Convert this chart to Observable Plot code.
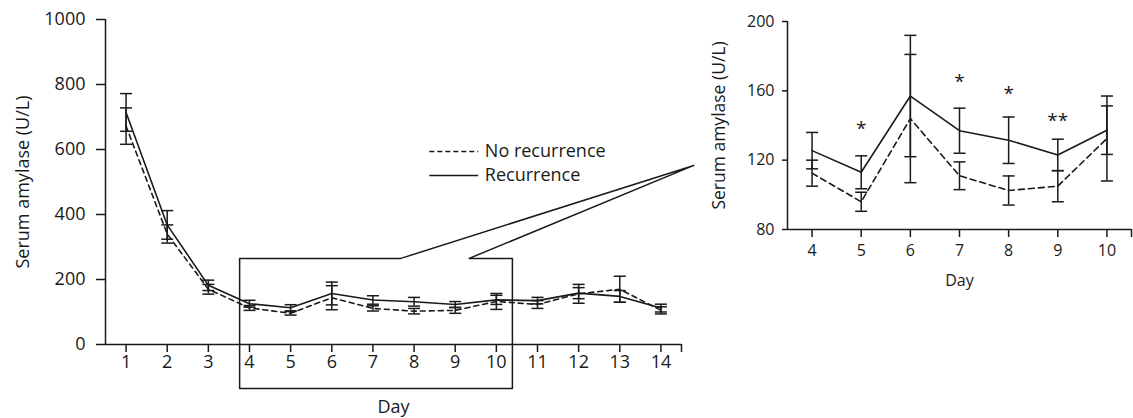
<!DOCTYPE html>
<html>
<head>
<meta charset="utf-8">
<script src="https://cdn.jsdelivr.net/npm/d3@7"></script>
<script src="https://cdn.jsdelivr.net/npm/@observablehq/plot@0.6"></script>
<style>
  html, body { margin: 0; padding: 0; background: #fff; }
  #root { position: relative; width: 1133px; height: 418px; background: #fff; overflow: hidden; }
  #left { position: absolute; left: 0; top: 0; }
  #right { position: absolute; left: 700px; top: 0; }
</style>
</head>
<body>
<div id="root"><div id="left"></div><div id="right"></div></div>
<script>
// ---- data ----
const days = [1, 2, 3, 4, 5, 6, 7, 8, 9, 10, 11, 12, 13, 14];
const recurrenceMean = [714, 368, 182, 125.5, 113, 157, 137, 131.5, 123, 137.3, 135, 158, 148, 112];
const recurrenceErr  = [58, 44, 16, 10.5, 9.5, 35, 13, 13.4, 9.1, 14, 10, 17, 18, 12];
const noRecurrenceMean = [672, 340, 170, 112.5, 96, 144, 111, 102.5, 105, 132.5, 123, 156, 170, 105];
const noRecurrenceErr  = [56, 28, 15, 7.5, 5.5, 37, 8, 8.4, 9, 24.5, 12, 29, 40, 11];
const seriesNames = ["No recurrence", "Recurrence"];
const leftYTicks = [0, 200, 400, 600, 800, 1000];
const insetDays = [4, 5, 6, 7, 8, 9, 10];
const insetYTicks = [80, 120, 160, 200];
const sigDays = [5, 7, 8, 9];
const sigLabels = ["*", "*", "*", "**"];
const sigValues = [140.5, 167.5, 160.6, 145.2];
const yLabel = "Serum amylase (U/L)";
const xLabel = "Day";

// ---- tables built from the arrays ----
const rows = [];
days.forEach((d, i) => {
  rows.push({day: d, series: seriesNames[0], mean: noRecurrenceMean[i], err: noRecurrenceErr[i]});
  rows.push({day: d, series: seriesNames[1], mean: recurrenceMean[i], err: recurrenceErr[i]});
});
const insetRows = rows.filter(r => insetDays.includes(r.day));
const sig = sigDays.map((d, i) => ({day: d, label: sigLabels[i], value: sigValues[i]}));

const ink = "#1a1a1a";
const font = "Open Sans";
const hline = {draw(ctx, size) { const r = Math.sqrt(size / Math.PI); ctx.moveTo(-r, 0); ctx.lineTo(r, 0); }};

function seriesMarks(data, dash, capR) {
  const out = [];
  for (const name of seriesNames) {
    const sub = data.filter(r => r.series === name);
    const dashed = name === seriesNames[0];
    out.push(Plot.line(sub, {x: "day", y: "mean", stroke: ink, strokeWidth: 1.6,
      strokeDasharray: dashed ? dash : null}));
    out.push(Plot.ruleX(sub, {x: "day", y1: d => d.mean - d.err, y2: d => d.mean + d.err, stroke: ink, strokeWidth: 1.5}));
    out.push(Plot.dot(sub, {x: "day", y: d => d.mean + d.err, symbol: hline, r: capR, stroke: ink, strokeWidth: 1.5, fill: "none"}));
    out.push(Plot.dot(sub, {x: "day", y: d => d.mean - d.err, symbol: hline, r: capR, stroke: ink, strokeWidth: 1.5, fill: "none"}));
  }
  return out;
}

// ---- zoom box and callout (data coordinates of the left panel) ----
const boxX1 = 3.76, boxX2 = 10.39, boxYTop = 265, boxYBottom = -135;
const gapX1 = 7.68, gapX2 = 9.34, calloutX = 14.8, calloutY = 551;
const boxPath = [
  [boxX1, boxYTop], [boxX1, boxYBottom], [boxX2, boxYBottom], [boxX2, boxYTop],
  [gapX2, boxYTop], [calloutX, calloutY], [gapX1, boxYTop], [boxX1, boxYTop]
];

// legend placement (data coordinates of the left panel)
const legLineX1 = 8.37, legLineX2 = 9.56, legTextX = 9.72, legY = [594, 520];

const left = Plot.plot({
  width: 700, height: 418,
  marginLeft: 105, marginRight: 19, marginTop: 19, marginBottom: 74,
  style: {fontFamily: font, fontSize: "18px", color: ink, background: "transparent", overflow: "visible"},
  x: {domain: [0.5, 14.5], axis: null},
  y: {domain: [0, 1000], axis: null},
  marks: [
    Plot.axisY({ticks: leftYTicks, tickSize: 9, tickPadding: 11, label: null, strokeWidth: 1.5, fontSize: 18,
      tickFormat: d => String(d)}),
    Plot.axisX({ticks: [...days, 14.5], tickSize: 8, tickPadding: 3, label: null, strokeWidth: 1.5,
      tickFormat: d => Number.isInteger(d) ? String(d) : "", fontSize: 18}),
    Plot.ruleX([0.5], {y1: 0, y2: 1000, stroke: ink, strokeWidth: 1.5}),
    Plot.ruleY([0], {x1: 0.5, x2: 14.5, stroke: ink, strokeWidth: 1.5}),
    ...seriesMarks(rows, "5,4", 6),
    Plot.line(boxPath, {x: d => d[0], y: d => d[1], stroke: ink, strokeWidth: 1.5}),
    Plot.link([seriesNames[0]], {x1: legLineX1, x2: legLineX2, y1: legY[0], y2: legY[0],
      stroke: ink, strokeWidth: 1.6, strokeDasharray: "5,3"}),
    Plot.link([seriesNames[1]], {x1: legLineX1, x2: legLineX2, y1: legY[1], y2: legY[1],
      stroke: ink, strokeWidth: 1.6}),
    Plot.text(seriesNames, {x: legTextX, y: (d, i) => legY[i], text: d => d, textAnchor: "start",
      lineAnchor: "middle", fontSize: 18, fill: ink}),
    Plot.text([yLabel], {frameAnchor: "left", dx: -82.5, rotate: -90, textAnchor: "middle",
      lineAnchor: "middle", fontSize: 18, fill: ink}),
    Plot.text([xLabel], {frameAnchor: "bottom", dy: 63, textAnchor: "middle", lineAnchor: "middle",
      fontSize: 18, fill: ink})
  ]
});
document.getElementById("left").appendChild(left);

const right = Plot.plot({
  width: 433, height: 300,
  marginLeft: 87, marginRight: 2, marginTop: 21, marginBottom: 71,
  style: {fontFamily: font, fontSize: "16px", color: ink, background: "transparent", overflow: "visible"},
  x: {domain: [3.5, 10.5], axis: null},
  y: {domain: [80, 200], axis: null},
  marks: [
    Plot.axisY({ticks: insetYTicks, tickSize: 5, tickPadding: 8, label: null, strokeWidth: 1.5, fontSize: 16}),
    Plot.axisX({ticks: [...insetDays, 10.5], tickSize: 8, tickPadding: 7, label: null, strokeWidth: 1.5,
      tickFormat: d => Number.isInteger(d) ? String(d) : "", fontSize: 16}),
    Plot.ruleX([3.5], {y1: 80, y2: 200, stroke: ink, strokeWidth: 1.5}),
    Plot.ruleY([80], {x1: 3.5, x2: 10.5, stroke: ink, strokeWidth: 1.5}),
    ...seriesMarks(insetRows, "6,4", 6),
    Plot.text(sig, {x: "day", y: "value", text: "label", dy: 4, fontSize: 19, fill: ink,
      textAnchor: "middle", lineAnchor: "middle"}),
    Plot.text([yLabel], {frameAnchor: "left", dx: -68, rotate: -90, textAnchor: "middle",
      lineAnchor: "middle", fontSize: 17.5, fill: ink}),
    Plot.text([xLabel], {frameAnchor: "bottom", dy: 51, textAnchor: "middle", lineAnchor: "middle",
      fontSize: 16, fill: ink})
  ]
});
document.getElementById("right").appendChild(right);
</script>
</body>
</html>
